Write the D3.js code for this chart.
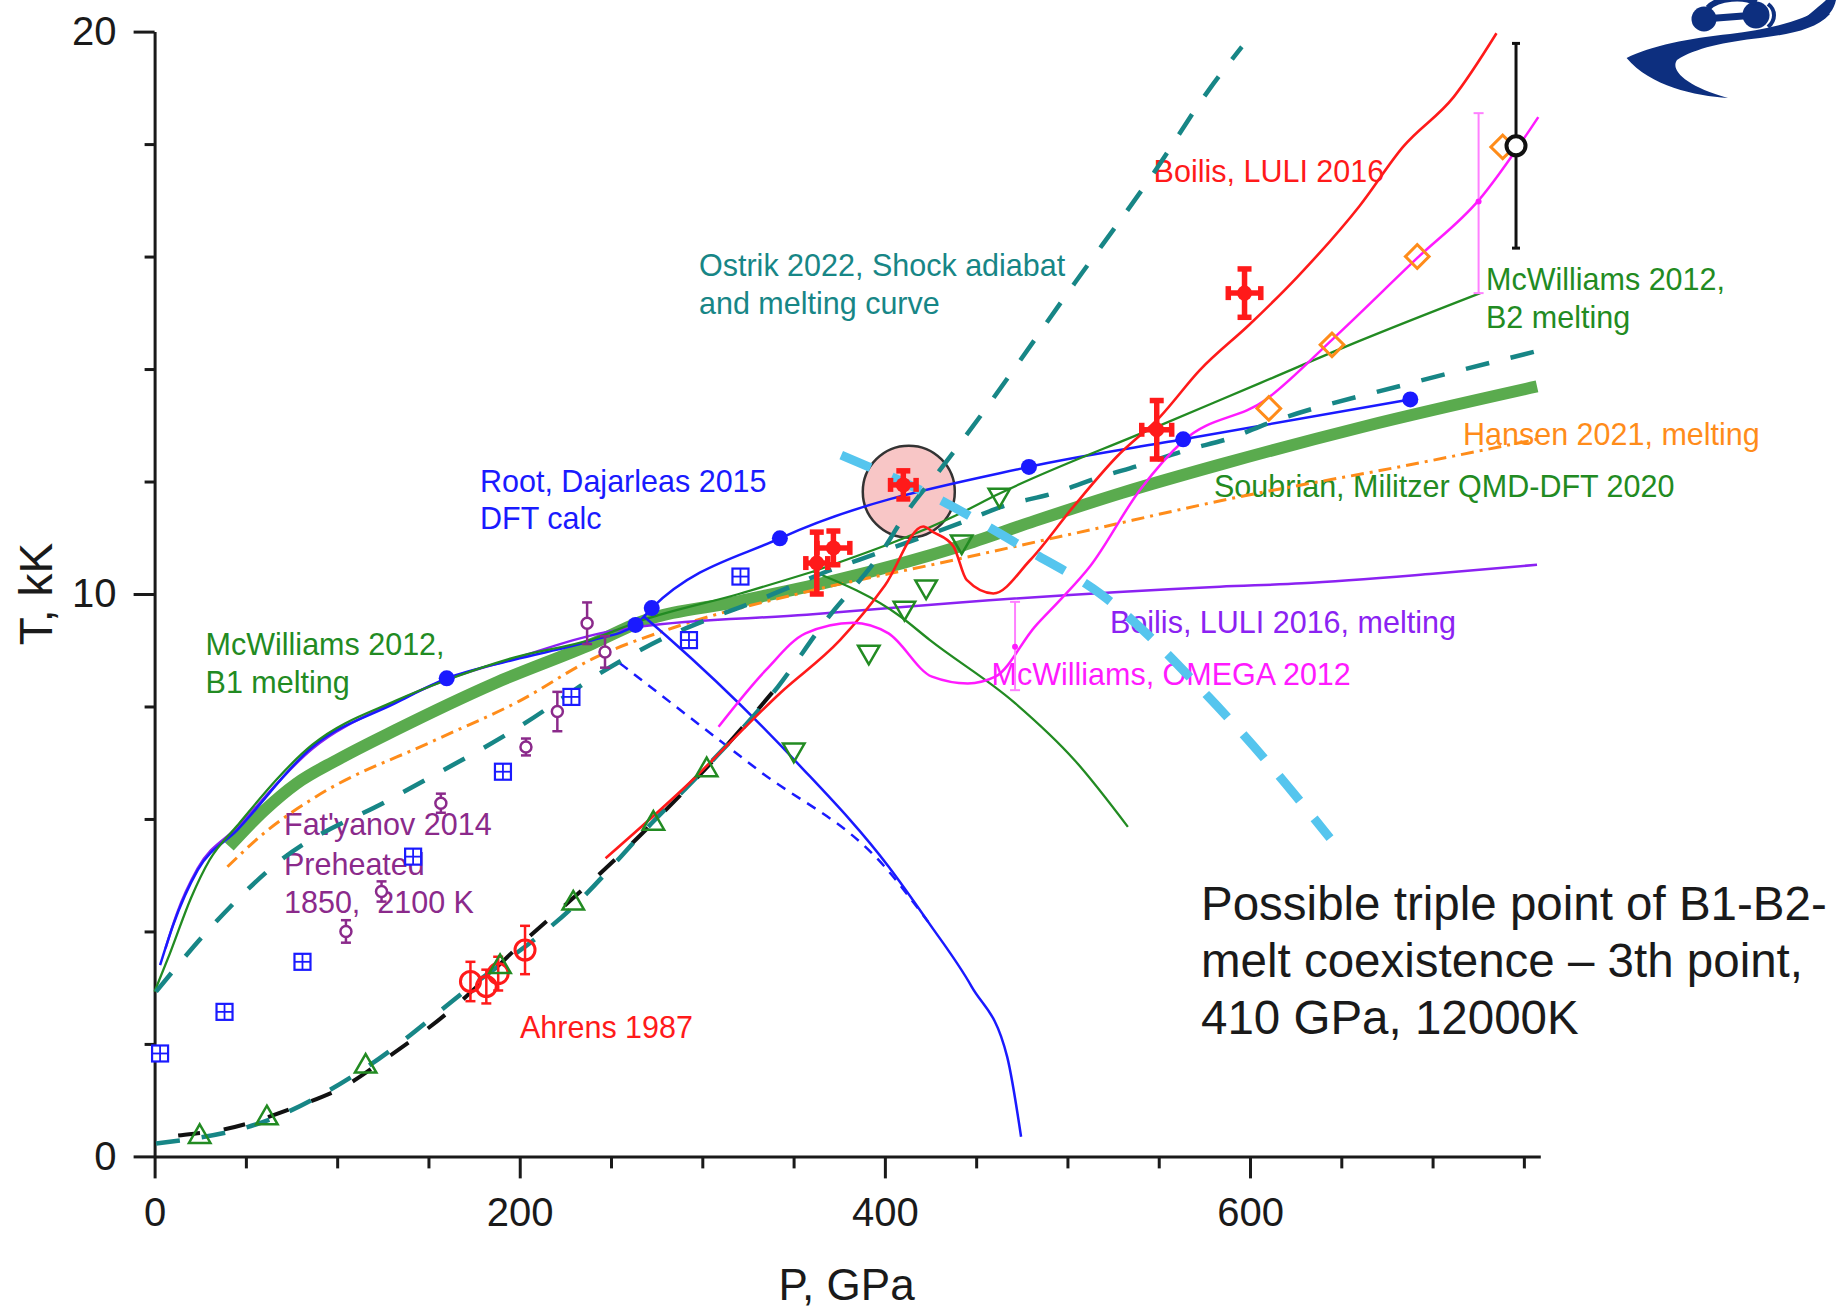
<!DOCTYPE html>
<html><head><meta charset="utf-8">
<script src="https://cdn.jsdelivr.net/npm/d3@7"></script>
<style>
html,body{margin:0;padding:0;background:#fff;}
svg{display:block;font-family:"Liberation Sans",Arial,Helvetica,sans-serif;}
</style></head><body>
<svg id="chart" width="1837" height="1309"></svg>
<script>
// ===== DATA (P in GPa, T in kK) =====
const xTicks = [0, 200, 400, 600];
const xMinorTicks = [50,100,150,250,300,350,450,500,550,650,700,750];
const yTicks = [0, 10, 20];
const yMinorTicks = [2,4,6,8,12,14,16,18];

const rootLine = [[3,3.4],[10,4.1],[23.6,5.09],[45.2,5.8],[86.4,7.28],[131.9,8.06],[160,8.5],[196.8,8.83],[240.1,9.18],[263.4,9.45],[272.3,9.75],[342.5,10.99],[478.9,12.26],[563.4,12.75],[687.8,13.46]];
const rootDots = [[160,8.5],[263.4,9.45],[272.3,9.75],[342.5,10.99],[478.9,12.26],[563.4,12.75],[687.8,13.46]];
const rootB1B2 = [[268,9.6],[280.8,9.24],[352.2,6.99],[402.1,5.15],[423.7,4.17],[447.5,3.02],[467,1.77],[474.6,0.35]];
const rootB1B2Dashed = [[254.8,8.77],[330.6,6.87],[399.9,5.15],[423.7,4.17]];
const boilisMelt = [[6,3.7],[12,4.3],[23.6,5.12],[45.2,5.85],[86.4,7.25],[131.9,8.08],[160,8.48],[196.8,8.85],[243.9,9.3],[265.9,9.42],[357.2,9.63],[441.1,9.85],[583.5,10.13],[628.3,10.19],[700,10.36],[757.2,10.52]];
const mcwB1Melt = [[0,2.93],[8.4,3.61],[20,4.6],[30.1,5.27],[45.2,5.88],[86.4,7.32],[131.9,8.1],[160,8.47],[196.8,8.87],[240.1,9.2],[265.9,9.52],[320,10.0],[360.8,10.4]];
const mcwB2Melt = [[360.8,10.4],[441.1,11.43],[460.5,11.75],[547.2,12.95],[605.5,13.75],[660,14.5],[726.1,15.35]];
const mcwB1B2 = [[360.8,10.4],[408.5,9.6],[424.7,9.18],[471.3,8.06],[503.8,7.05],[533.1,5.86]];
const soubrian = [[40.9,5.51],[60,6.15],[77.7,6.63],[100,7.05],[131.9,7.58],[186,8.41],[240.1,9.12],[265.9,9.5],[320,9.87],[373.8,10.25],[441.1,10.85],[482.2,11.3],[530,11.8],[583.5,12.3],[661.5,12.97],[757.2,13.69]];
const hansen = [[39.9,5.15],[60,5.75],[88.6,6.4],[153.6,7.4],[200,8.1],[240.1,8.85],[284.1,9.4],[357.2,10.04],[430,10.55],[500,11.05],[594.5,11.73],[680,12.25],[757,12.75]];
const ostrikMelt = [[0.8,2.93],[34.4,4.2],[66.9,5.21],[131.9,6.4],[196.8,7.58],[253.2,8.77],[280.5,9.24],[302.4,9.54],[326.1,9.83],[346.2,10.1],[368.1,10.4],[395.5,10.72],[421.1,11.02],[441.1,11.26],[466.7,11.58],[492.3,11.79],[516,12.06],[539.7,12.29],[565.3,12.56],[589,12.77],[610.3,13.04],[688.3,13.75],[756.1,14.31]];
const ostrikShock = [[0.8,0.23],[62.6,0.65],[116.7,1.6],[170.8,2.96],[229.3,4.44],[272.1,5.92],[302.4,6.93],[341.4,8.35],[367,9.5],[398.3,10.75],[412.8,11.49],[429.3,12.17],[445.4,12.86],[503.8,15.52],[547.1,17.48],[577.4,18.96],[595.5,19.73]];
const hugoniotExp = [[0.5,0.3],[8.4,0.35],[36.6,0.47],[79.9,0.91],[103.7,1.24],[125.4,1.71],[162.2,2.6],[201.2,3.79],[240.1,4.91],[272,5.9],[302,6.9],[343.6,8.45]];
const boilisLine = [[247,5.3],[290,6.55],[343,8.25],[375.4,9.18],[400,10.15],[421,11.2],[426.5,11.1],[437.5,10.85],[444.8,10.25],[459.4,10.01],[479.5,10.6],[503.2,11.55],[527,12.44],[550.7,13.15],[572.5,13.98],[600,14.8],[626,15.64],[660,16.9],[683.8,17.95],[711.6,18.84],[735,19.97]];
const omegaLine = [[308.9,7.64],[334.9,8.65],[356.5,9.3],[382.6,9.49],[402,9.3],[425.8,8.53],[445.4,8.41],[460.5,8.53],[482.2,9.42],[495.9,9.89],[512.3,10.49],[539.7,11.85],[563.4,12.72],[608.4,13.45],[644.9,14.52],[691.8,15.98],[725.2,17.0],[757.9,18.48]];
const triplePointCurve = [[376.1,12.47],[433.9,11.61],[476.2,10.82],[519,9.98],[577.3,8.17],[610.9,6.96],[643.8,5.66]];

const boilisP = [362.7, 371.8, 410.1, 548.9, 597];
const boilisT = [10.55, 10.82, 11.94, 12.92, 15.35];
const boilisTErr = [0.55, 0.3, 0.25, 0.52, 0.43];
const boilisPErr = [6, 9, 7, 8.2, 8.9];
const ahrensP = [173, 181.7, 188.2, 202.9];
const ahrensT = [3.11, 3.02, 3.25, 3.67];
const ahrensErr = [0.35, 0.3, 0.3, 0.43];
const fatyanovP = [104.8, 124.3, 156.8, 203.4, 220.6, 236.9, 246.7];
const fatyanovT = [4.0, 4.71, 6.28, 7.28, 7.91, 9.48, 8.97];
const fatyanovErr = [0.2, 0.18, 0.17, 0.15, 0.35, 0.37, 0.28];
const squareP = [3, 38.3, 81, 141.6, 190.8, 228.3, 292.7, 320.9];
const squareT = [1.83, 2.57, 3.46, 5.33, 6.84, 8.17, 9.18, 10.31];
const triDownP = [350.1, 391.2, 410.7, 422.6, 442.1, 462.7];
const triDownT = [7.23, 8.97, 9.75, 10.13, 10.93, 11.76];
const triUpP = [24.7, 61.5, 115.6, 189.2, 229.3, 273.2, 302.4];
const triUpT = [0.35, 0.68, 1.6, 3.37, 4.5, 5.92, 6.87];
const diamondP = [610.3, 644.9, 691.6, 738.4];
const diamondT = [13.3, 14.43, 16.0, 17.95];
const omegaBarP = [471.3, 725.2];
const omegaBarT = [9.06, 16.98];
const omegaBarLo = [8.29, 15.35];
const omegaBarHi = [9.86, 18.55];
const blackPtP = [745.7];
const blackPtT = [17.97];
const blackPtLo = [16.15];
const blackPtHi = [19.79];
const triplePoint = [[413.1, 11.82]];

// ===== COLOURS =====
const C = {
  teal:"#178686", blue:"#1a1aff", purple:"#8b22f2", green:"#228b22", thick:"#5aab4e",
  orange:"#ff8c1a", red:"#ff1a1a", magenta:"#ff1aff", cyan:"#55c5ee", fat:"#8b2a8b",
  navy:"#0d2f7f", axis:"#1a1a1a"
};

const W = 1837, H = 1309;
const svg = d3.select("#chart");
svg.append("rect").attr("width", W).attr("height", H).attr("fill", "#fff");

const x = d3.scaleLinear().domain([0, 759]).range([154.6, 1540.3]);
const y = d3.scaleLinear().domain([0, 20]).range([1156.4, 31.6]);

// ===== LOGO (decoration) =====
const logo = svg.append("g");
logo.append("path")
  .attr("d","M1626.6,58 C1650,46 1690,38 1730,34 C1765,30 1800,22 1822,8 L1830,14 C1815,30 1790,34 1760,38 C1725,42 1695,48 1677,60 C1670,70 1685,86 1728,98 C1695,96 1650,86 1626.6,58 Z")
  .attr("fill", C.navy);
logo.append("path").attr("d","M1800,22 C1812,12 1822,4 1826,0 L1836,0 C1834,10 1828,16 1822,20 Z").attr("fill", C.navy);
logo.append("line").attr("x1",1704).attr("y1",19).attr("x2",1756).attr("y2",15).attr("stroke",C.navy).attr("stroke-width",7);
logo.append("circle").attr("cx",1704).attr("cy",19).attr("r",12.5).attr("fill",C.navy);
logo.append("circle").attr("cx",1756).attr("cy",15).attr("r",13.5).attr("fill",C.navy);
logo.append("path").attr("d","M1708,8 C1718,-3 1745,-4 1756,3").attr("fill","none").attr("stroke",C.navy).attr("stroke-width",6);
logo.append("path").attr("d","M1768,4 C1776,10 1776,20 1768,27").attr("fill","none").attr("stroke",C.navy).attr("stroke-width",4);

// ===== AXES =====
const FONT = '"Liberation Sans",Arial,Helvetica,sans-serif';
const gx = svg.append("g").attr("transform", `translate(0,${y(0)})`);
gx.call(d3.axisBottom(x).tickValues(xTicks).tickSize(22).tickSizeOuter(0).tickPadding(19).tickFormat(d3.format("d")));
const gxm = svg.append("g").attr("transform", `translate(0,${y(0)})`);
gxm.call(d3.axisBottom(x).tickValues(xMinorTicks).tickSize(12).tickFormat(""));
gxm.select(".domain").remove();
const gy = svg.append("g").attr("transform", `translate(${x(0)},0)`);
gy.call(d3.axisLeft(y).tickValues(yTicks).tickSize(21).tickSizeOuter(0).tickPadding(17).tickFormat(d3.format("d")));
const gym = svg.append("g").attr("transform", `translate(${x(0)},0)`);
gym.call(d3.axisLeft(y).tickValues(yMinorTicks).tickSize(10).tickFormat(""));
gym.select(".domain").remove();
svg.selectAll(".domain").attr("stroke", C.axis).attr("stroke-width", 3);
svg.selectAll(".tick line").attr("stroke", C.axis).attr("stroke-width", 3);
svg.selectAll(".tick text").attr("font-size", 40).attr("font-family", FONT).attr("fill", C.axis);

svg.append("text").attr("x", x(379)).attr("y", 1300).attr("text-anchor","middle")
  .attr("font-size",44).attr("fill",C.axis).text("P, GPa");
svg.append("text").attr("transform", `translate(52,${y(10)}) rotate(-90)`).attr("text-anchor","middle")
  .attr("font-size",46).attr("fill",C.axis).text("T, kK");

// ===== ANNOTATION TEXT =====
const labels = [
  ["Ostrik 2022, Shock adiabat", 699, 276, C.teal],
  ["and melting curve", 699, 314, C.teal],
  ["Boilis, LULI 2016", 1153.6, 181.7, C.red],
  ["McWilliams 2012,", 1486, 290, C.green],
  ["B2 melting", 1486, 328, C.green],
  ["Hansen 2021, melting", 1463, 445, C.orange],
  ["Soubrian, Militzer QMD-DFT 2020", 1214, 497, C.green],
  ["Root, Dajarleas 2015", 480, 492, C.blue],
  ["DFT calc", 480, 529, C.blue],
  ["Boilis, LULI 2016, melting", 1110, 633, C.purple],
  ["McWilliams, OMEGA 2012", 991.5, 685, C.magenta],
  ["McWilliams 2012,", 205.6, 655, C.green],
  ["B1 melting", 205.6, 693, C.green],
  ["Fat'yanov 2014", 284, 835, C.fat],
  ["Preheated", 284, 875, C.fat],
  ["1850,  2100 K", 284, 913, C.fat],
  ["Ahrens 1987", 520, 1038, C.red]
];
svg.append("g").selectAll("text").data(labels).join("text")
  .attr("x", d => d[1]).attr("y", d => d[2]).attr("fill", d => d[3])
  .attr("font-size", 30.5).style("white-space","pre").text(d => d[0]);
const note = svg.append("text").attr("font-size", 47.5).attr("fill", "#1a1a1a");
[["Possible triple point of B1-B2-", 920], ["melt coexistence \u2013 3th point,", 977], ["410 GPa, 12000K", 1034]]
  .forEach(l => note.append("tspan").attr("x", 1201).attr("y", l[1]).text(l[0]));

// ===== TRIPLE POINT CIRCLE =====
svg.append("g").selectAll("circle").data(triplePoint).join("circle")
  .attr("cx", d => x(d[0])).attr("cy", d => y(d[1])).attr("r", 46)
  .attr("fill", "#f8c6c6").attr("stroke", "#333").attr("stroke-width", 2.5);

// ===== LINES =====
const line = d3.line().x(d => x(d[0])).y(d => y(d[1])).curve(d3.curveMonotoneX);
function drawLine(data, color, w, dash) {
  const p = svg.append("path").datum(data).attr("d", line).attr("fill", "none")
    .attr("stroke", color).attr("stroke-width", w).attr("stroke-linejoin","round");
  if (dash) p.attr("stroke-dasharray", dash);
  return p;
}
drawLine(soubrian, C.thick, 12);
drawLine(hansen, C.orange, 3, "13,6,3,6");
drawLine(boilisMelt, C.purple, 2.5);
drawLine(rootLine, C.blue, 2.5);
drawLine(mcwB1Melt, C.green, 2.3);
drawLine(mcwB2Melt, C.green, 2.3);
drawLine(mcwB1B2, C.green, 2.3);
drawLine(rootB1B2, C.blue, 2.5);
drawLine(rootB1B2Dashed, C.blue, 2.5, "10,8");
drawLine(hugoniotExp, "#111", 4, "22,24").attr("stroke-dashoffset", 23);
drawLine(ostrikMelt, C.teal, 4.5, "24,22");
drawLine(ostrikShock, C.teal, 4.5, "24,22");
drawLine(boilisLine, C.red, 2.6);
drawLine(omegaLine, C.magenta, 2.5);
drawLine(triplePointCurve, C.cyan, 9, "32,23");

// ===== MARKERS =====
function vbar(g, px, lo, hi, cap, color, sw) {
  g.append("line").attr("x1", x(px)).attr("x2", x(px)).attr("y1", y(lo)).attr("y2", y(hi)).attr("stroke", color).attr("stroke-width", sw);
  [lo, hi].forEach(v => g.append("line").attr("x1", x(px) - cap/2).attr("x2", x(px) + cap/2)
    .attr("y1", y(v)).attr("y2", y(v)).attr("stroke", color).attr("stroke-width", sw));
}
function hbar(g, pt, lo, hi, cap, color, sw) {
  g.append("line").attr("x1", x(lo)).attr("x2", x(hi)).attr("y1", y(pt)).attr("y2", y(pt)).attr("stroke", color).attr("stroke-width", sw);
  [lo, hi].forEach(v => g.append("line").attr("x1", x(v)).attr("x2", x(v))
    .attr("y1", y(pt) - cap/2).attr("y2", y(pt) + cap/2).attr("stroke", color).attr("stroke-width", sw));
}

// Omega error bars (magenta)
const gOm = svg.append("g");
omegaBarP.forEach((p, i) => {
  vbar(gOm, p, omegaBarLo[i], omegaBarHi[i], 10, "#ff80ff", 2);
  gOm.append("circle").attr("cx", x(p)).attr("cy", y(omegaBarT[i])).attr("r", 3).attr("fill", C.magenta);
});

// Blue squares with cross
const gSq = svg.append("g");
squareP.forEach((p, i) => {
  const cx = x(p), cy = y(squareT[i]), s = 16;
  gSq.append("rect").attr("x", cx - s/2).attr("y", cy - s/2).attr("width", s).attr("height", s)
    .attr("fill", "#fff").attr("stroke", C.blue).attr("stroke-width", 2.2);
  gSq.append("line").attr("x1", cx - s/2).attr("x2", cx + s/2).attr("y1", cy).attr("y2", cy).attr("stroke", C.blue).attr("stroke-width", 1.8);
  gSq.append("line").attr("x1", cx).attr("x2", cx).attr("y1", cy - s/2).attr("y2", cy + s/2).attr("stroke", C.blue).attr("stroke-width", 1.8);
});

// Fat'yanov circles
const gF = svg.append("g");
fatyanovP.forEach((p, i) => {
  vbar(gF, p, fatyanovT[i] - fatyanovErr[i], fatyanovT[i] + fatyanovErr[i], 10, C.fat, 2.5);
  gF.append("circle").attr("cx", x(p)).attr("cy", y(fatyanovT[i])).attr("r", 5.5)
    .attr("fill", "#fff").attr("stroke", C.fat).attr("stroke-width", 2.5);
});

// Ahrens circles
const gA = svg.append("g");
ahrensP.forEach((p, i) => {
  vbar(gA, p, ahrensT[i] - ahrensErr[i], ahrensT[i] + ahrensErr[i], 10, C.red, 2.5);
  gA.append("circle").attr("cx", x(p)).attr("cy", y(ahrensT[i])).attr("r", 10)
    .attr("fill", "none").attr("stroke", C.red).attr("stroke-width", 3);
});

// Triangles
const triSym = d3.symbol().type(d3.symbolTriangle).size(200);
svg.append("g").selectAll("path").data(triUpP.map((p, i) => [p, triUpT[i]])).join("path")
  .attr("d", triSym).attr("transform", d => `translate(${x(d[0])},${y(d[1])})`)
  .attr("fill", "none").attr("stroke", C.green).attr("stroke-width", 2.5);
svg.append("g").selectAll("path").data(triDownP.map((p, i) => [p, triDownT[i]])).join("path")
  .attr("d", triSym).attr("transform", d => `translate(${x(d[0])},${y(d[1])}) rotate(180)`)
  .attr("fill", "none").attr("stroke", C.green).attr("stroke-width", 2.5);

// Root dots
svg.append("g").selectAll("circle").data(rootDots).join("circle")
  .attr("cx", d => x(d[0])).attr("cy", d => y(d[1])).attr("r", 8).attr("fill", C.blue);

// Diamonds
const diaSym = d3.symbol().type(d3.symbolSquare).size(280);
svg.append("g").selectAll("path").data(diamondP.map((p, i) => [p, diamondT[i]])).join("path")
  .attr("d", diaSym).attr("transform", d => `translate(${x(d[0])},${y(d[1])}) rotate(45)`)
  .attr("fill", "none").attr("stroke", C.orange).attr("stroke-width", 3);

// Boilis red crosses
const gB = svg.append("g");
boilisP.forEach((p, i) => {
  vbar(gB, p, boilisT[i] - boilisTErr[i], boilisT[i] + boilisTErr[i], 14, C.red, 5.5);
  hbar(gB, boilisT[i], p - boilisPErr[i], p + boilisPErr[i], 14, C.red, 5.5);
  gB.append("circle").attr("cx", x(p)).attr("cy", y(boilisT[i])).attr("r", 7.5).attr("fill", C.red);
});

// Black open circle with error bar
const gK = svg.append("g");
blackPtP.forEach((p, i) => {
  vbar(gK, p, blackPtLo[i], blackPtHi[i], 8, "#111", 3);
  gK.append("circle").attr("cx", x(p)).attr("cy", y(blackPtT[i])).attr("r", 9.5)
    .attr("fill", "#fff").attr("stroke", "#111").attr("stroke-width", 4);
});
</script>
</body></html>
